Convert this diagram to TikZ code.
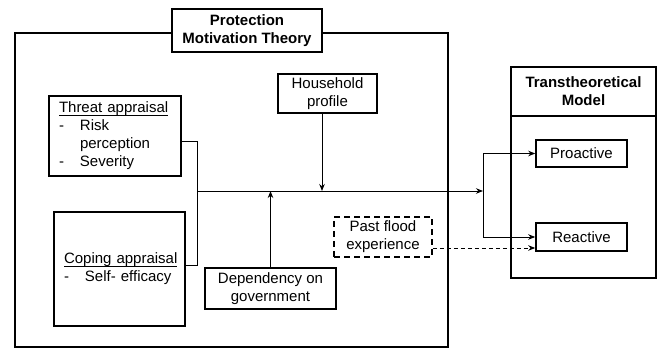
\documentclass[tikz,border=0pt]{standalone}
\usepackage{fontspec}
\setmainfont{Liberation Sans}
\newcommand\myul[1]{\setbox0\hbox{#1}\rlap{\rule[-2.5pt]{\wd0}{0.7pt}}\box0}
\usetikzlibrary{arrows.meta}
\begin{document}
\begin{tikzpicture}[x=1pt,y=-1pt,
  every node/.style={font=\fontsize{15}{18}\selectfont},
  box/.style={draw, line width=1.6pt, inner sep=0pt, align=center, fill=white},
  frame/.style={draw, line width=1.6pt, inner sep=0pt},
  conn/.style={line width=0.9pt},
  arr/.style={conn, -{Stealth[length=7pt,width=5.5pt]}},
  listbox/.style={box, align=left, text width=112pt, inner xsep=10pt}
]
\useasboundingbox (0,0) rectangle (657,350);
% PMT frame
\node[frame, minimum width=433pt, minimum height=314pt] (pmt) at (231.5,190) {};
\node[box, minimum width=150pt, minimum height=43pt] (pmtt) at (247,30.5) {\textbf{Protection}\\\textbf{Motivation Theory}};
% Threat appraisal
\node[listbox, minimum height=80pt] (threat) at (115,136) {\myul{Threat appraisal}\\\makebox[21pt][l]{-}Risk\\\hspace*{21pt}perception\\\makebox[21pt][l]{-}Severity};
% Coping appraisal
\node[listbox, text width=111pt, minimum height=114pt] (coping) at (119.5,269) {\myul{Coping appraisal}\\\makebox[21pt][l]{-}Self- efficacy};
% Household profile
\node[box, minimum width=99pt, minimum height=39pt] (house) at (327.5,93.5) {Household\\profile};
% Dependency
\node[box, minimum width=131pt, minimum height=41pt] (dep) at (270.5,288.5) {Dependency on\\government};
% Past flood experience
\node[box, dashed, dash pattern=on 6pt off 4pt, minimum width=98pt, minimum height=40pt] (past) at (383,237) {Past flood\\experience};
% Transtheoretical model
\node[frame, minimum width=145pt, minimum height=211pt] (tm) at (583.5,172.5) {};
\node[inner sep=0pt, align=center] (tmt) at (583.5,91.5) {\textbf{Transtheoretical}\\\textbf{Model}};
\coordinate (tdl) at (511,116);
\coordinate (tdr) at (656,116);
\draw[line width=1.6pt] (tdl) -- (tdr);
\node[box, minimum width=91pt, minimum height=27pt] (pro) at (581.5,153.5) {Proactive};
\node[box, minimum width=91pt, minimum height=28pt] (rea) at (581.5,237) {Reactive};
% connectors
\coordinate (jt) at (197,191);
\coordinate (hp) at (322,191);
\coordinate (split) at (483,191);
\draw[conn] ([yshift=-5pt]threat.east) -| (jt);
\draw[conn] ([yshift=4pt]coping.east) -| (jt);
\draw[arr] (jt) -- (split);
\draw[arr] (house.south -| hp) -- (hp);
\draw[arr] (dep.north) -- (dep.north |- jt);
\draw[conn] (pro.west -| split) -- (rea.west -| split);
\draw[arr] (pro.west -| split) -- (pro.west);
\draw[arr] (rea.west -| split) -- (rea.west);
\draw[arr, dashed, dash pattern=on 4pt off 3pt] ([yshift=-11pt]past.east) -- ([yshift=-11pt]past.east -| rea.west);
\end{tikzpicture}
\end{document}
